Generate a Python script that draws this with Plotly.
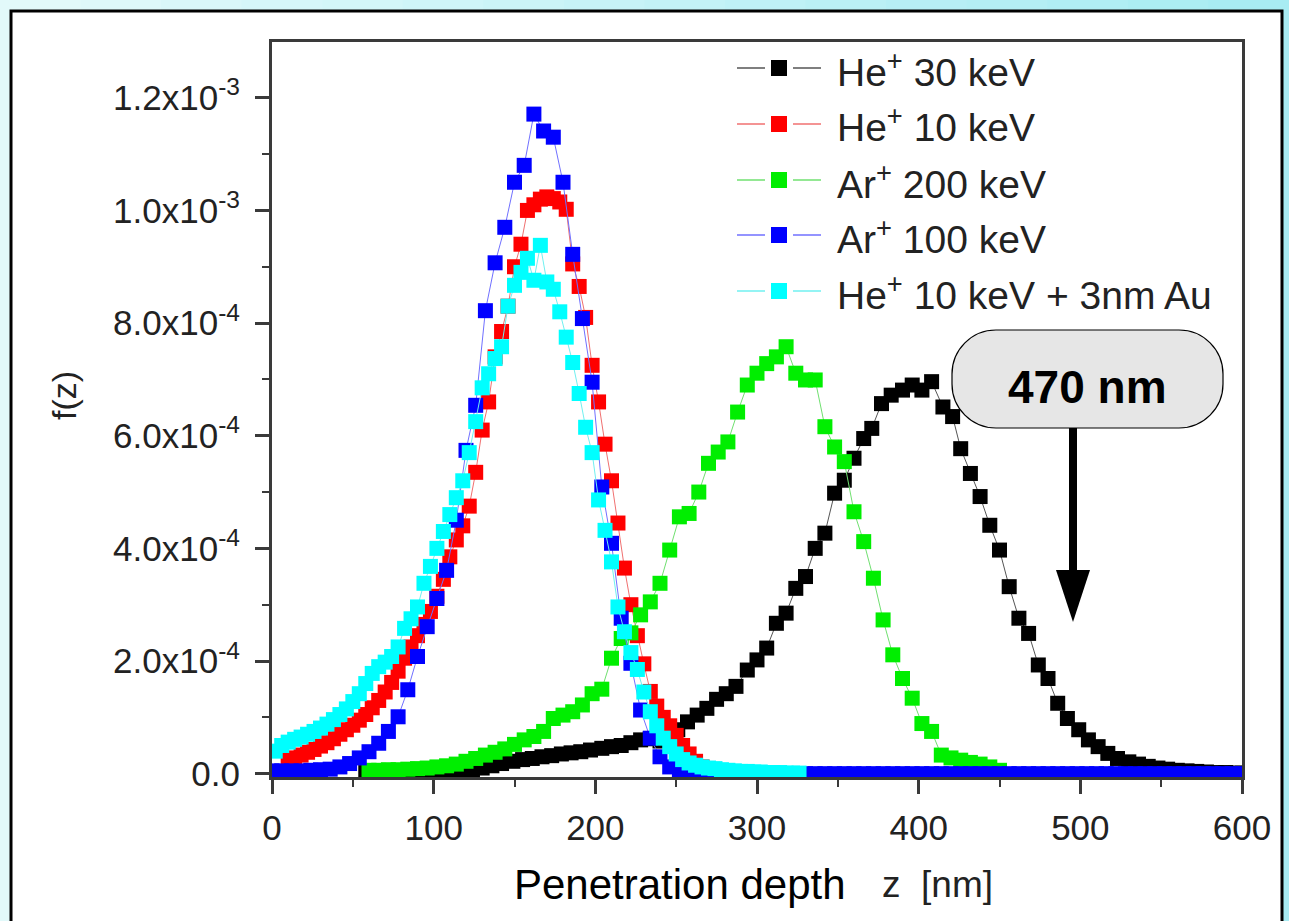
import plotly.graph_objects as go

# ---------------------------------------------------------------------------
# Depth profiles f(z) of implanted ions, values given in units of 1e-4
# ---------------------------------------------------------------------------
he30_z = [58, 64, 70, 76, 82, 88, 94, 100, 106, 112,
          118, 124, 130, 136, 142, 149, 155, 161, 167, 173,
          179, 185, 191, 197, 204, 210, 216, 222, 228, 234,
          240, 246, 251, 257, 263, 269, 275, 281, 287, 294,
          300, 306, 312, 318, 324, 330, 336, 342, 348, 354,
          360, 366, 371, 377, 383, 390, 396, 402, 408, 415,
          421, 426, 432, 438, 444, 450, 456, 462, 468, 474,
          480, 486, 492, 499, 505, 511, 517, 523, 530, 536,
          542, 548, 554, 560, 566, 572, 578, 584, 590, 596,
          600]
he30_f = [0.02, 0.02, 0.02, 0.03, 0.03, 0.03, 0.03, 0.04, 0.04, 0.05,
          0.05, 0.06, 0.10, 0.14, 0.18, 0.22, 0.25, 0.27, 0.30, 0.32,
          0.35, 0.37, 0.39, 0.42, 0.45, 0.48, 0.50, 0.55, 0.60, 0.62,
          0.58, 0.62, 0.78, 0.92, 1.04, 1.16, 1.32, 1.42, 1.55, 1.84,
          2.02, 2.23, 2.67, 2.85, 3.29, 3.50, 4.00, 4.27, 4.98, 5.21,
          5.60, 5.95, 6.13, 6.57, 6.72, 6.81, 6.90, 6.81, 6.96, 6.51,
          6.34, 5.77, 5.33, 4.92, 4.41, 3.97, 3.32, 2.76, 2.49, 1.93,
          1.69, 1.25, 0.98, 0.78, 0.60, 0.48, 0.36, 0.27, 0.21, 0.17,
          0.13, 0.10, 0.08, 0.06, 0.05, 0.04, 0.03, 0.02, 0.02, 0.01,
          0.01]

he10_z = [10, 14, 18, 22, 26, 30, 34, 38, 42, 46,
          50, 54, 58, 62, 66, 70, 74, 78, 82, 86,
          90, 94, 98, 102, 106, 110, 114, 118, 122, 126,
          130, 134, 138, 142, 146, 150, 154, 158, 162, 166,
          170, 174, 178, 182, 186, 190, 194, 198, 202, 206,
          210, 214, 218, 222, 226, 230, 234, 238, 242, 246,
          250, 254, 258, 262, 266, 270]
he10_f = [0.24, 0.28, 0.33, 0.38, 0.43, 0.49, 0.55, 0.62, 0.70, 0.78,
          0.86, 0.95, 1.05, 1.17, 1.30, 1.45, 1.62, 1.82, 2.05, 2.25,
          2.45, 2.65, 2.88, 3.15, 3.45, 3.85, 4.15, 4.40, 4.75, 5.35,
          6.10, 6.60, 7.40, 7.85, 8.30, 9.00, 9.40, 10.00, 10.10, 10.20,
          10.24, 10.21, 10.15, 10.02, 9.05, 8.65, 8.10, 7.25, 6.60, 5.85,
          5.20, 4.45, 3.65, 3.00, 2.45, 1.95, 1.46, 1.20, 1.00, 0.85,
          0.68, 0.50, 0.35, 0.22, 0.12, 0.06]

ar200_z = [60, 66, 72, 78, 84, 90, 96, 102, 108, 114,
           120, 126, 132, 138, 144, 150, 156, 162, 168, 174,
           180, 186, 192, 198, 204, 210, 216, 222, 228, 234,
           240, 246, 252, 258, 264, 270, 276, 282, 288, 294,
           300, 306, 312, 318, 324, 330, 336, 342, 348, 354,
           360, 366, 372, 378, 384, 390, 396, 402, 408, 414,
           420, 426, 432, 438, 444, 450]
ar200_f = [0.06, 0.06, 0.07, 0.07, 0.08, 0.09, 0.10, 0.12, 0.14, 0.17,
           0.22, 0.27, 0.33, 0.38, 0.44, 0.52, 0.60, 0.66, 0.75, 0.98,
           1.04, 1.10, 1.22, 1.42, 1.50, 2.05, 2.40, 2.50, 2.82, 3.05,
           3.38, 3.97, 4.56, 4.62, 5.00, 5.51, 5.71, 5.89, 6.42, 6.90,
           7.11, 7.28, 7.40, 7.58, 7.11, 6.99, 6.99, 6.16, 5.80, 5.54,
           4.65, 4.12, 3.47, 2.73, 2.11, 1.69, 1.34, 0.89, 0.75, 0.33,
           0.28, 0.24, 0.20, 0.17, 0.12, 0.06]

ar100_z = [0, 6, 12, 18, 24, 30, 36, 42, 48, 54,
           60, 66, 72, 78, 84, 90, 96, 102, 108, 114,
           120, 126, 132, 138, 144, 150, 156, 162, 168, 174,
           180, 186, 192, 198, 204, 210, 216, 222, 228, 234,
           240, 246, 252, 258, 264, 270, 276, 282, 288, 294,
           300, 306, 312, 318, 324, 330, 336, 342, 348, 354,
           360, 366, 372, 378, 384, 390, 396, 402, 408, 414,
           420, 426, 432, 438, 444, 450, 456, 462, 468, 474,
           480, 486, 492, 498, 504, 510, 516, 522, 528, 534,
           540, 546, 552, 558, 564, 570, 576, 582, 588, 594,
           600]
ar100_f = [0.05, 0.05, 0.05, 0.05, 0.06, 0.07, 0.08, 0.12, 0.18, 0.28,
           0.39, 0.54, 0.75, 1.01, 1.49, 2.08, 2.61, 3.11, 3.61, 4.50,
           5.74, 6.54, 8.22, 9.07, 9.70, 10.50, 10.80, 11.71, 11.41, 11.30,
           10.50, 9.22, 8.08, 6.95, 5.09, 4.09, 2.76, 1.96, 1.13, 0.63,
           0.30, 0.12, 0.03, 0.0, 0.0, 0.0, 0.0, 0.0, 0.0, 0.0,
           0.0, 0.0, 0.0, 0.0, 0.0, 0.0, 0.0, 0.0, 0.0, 0.0,
           0.0, 0.0, 0.0, 0.0, 0.0, 0.0, 0.0, 0.0, 0.0, 0.0,
           0.0, 0.0, 0.0, 0.0, 0.0, 0.0, 0.0, 0.0, 0.0, 0.0,
           0.0, 0.0, 0.0, 0.0, 0.0, 0.0, 0.0, 0.0, 0.0, 0.0,
           0.0, 0.0, 0.0, 0.0, 0.0, 0.0, 0.0, 0.0, 0.0, 0.0,
           0.0]

he10au_z = [2, 6, 10, 14, 18, 22, 26, 30, 34, 38,
            42, 46, 50, 54, 58, 62, 66, 70, 74, 78,
            82, 86, 90, 94, 98, 102, 106, 110, 114, 118,
            122, 126, 130, 134, 138, 142, 146, 150, 154, 158,
            162, 166, 170, 174, 178, 182, 186, 190, 194, 198,
            202, 206, 210, 214, 218, 222, 226, 230, 234, 238,
            242, 246, 250, 254, 258, 262, 266, 270, 274, 278,
            282, 286, 290, 294, 298, 302, 306, 310, 314, 318,
            322, 326]
he10au_f = [0.40, 0.50, 0.56, 0.61, 0.65, 0.70, 0.75, 0.81, 0.88, 0.96,
            1.05, 1.15, 1.28, 1.42, 1.60, 1.78, 1.90, 1.98, 2.08, 2.25,
            2.58, 2.75, 2.96, 3.38, 3.68, 4.00, 4.30, 4.60, 4.90, 5.20,
            5.70, 6.25, 6.85, 7.10, 7.37, 7.58, 8.30, 8.67, 8.90, 9.15,
            8.76, 9.38, 8.73, 8.60, 8.20, 7.75, 7.30, 6.75, 6.15, 5.70,
            4.86, 4.32, 3.76, 2.96, 2.52, 2.15, 1.85, 1.45, 1.10, 0.85,
            0.63, 0.48, 0.35, 0.25, 0.19, 0.15, 0.12, 0.10, 0.09, 0.07,
            0.06, 0.05, 0.04, 0.04, 0.03, 0.03, 0.02, 0.02, 0.02, 0.01,
            0.01, 0.01]

series_names = ["He<sup>+</sup> 30 keV", "He<sup>+</sup> 10 keV", "Ar<sup>+</sup> 200 keV",
                "Ar<sup>+</sup> 100 keV", "He<sup>+</sup> 10 keV + 3nm Au"]
marker_colors = ["#000000", "#ff0000", "#00ee00", "#0000ff", "#00ffff"]
line_colors = ["#555555", "#f07070", "#70e070", "#7070ff", "#70f0f0"]
series_z = [he30_z, he10_z, ar200_z, ar100_z, he10au_z]
series_f = [he30_f, he10_f, ar200_f, ar100_f, he10au_f]

y_tick_vals = [0.0, 2e-4, 4e-4, 6e-4, 8e-4, 1.0e-3, 1.2e-3]
y_tick_text = ["0.0", "2.0x10<sup>-4</sup>", "4.0x10<sup>-4</sup>", "6.0x10<sup>-4</sup>",
               "8.0x10<sup>-4</sup>", "1.0x10<sup>-3</sup>", "1.2x10<sup>-3</sup>"]
x_tick_vals = [0, 100, 200, 300, 400, 500, 600]

W, H = 1289, 921
L, R, T, B = 272, 1242, 42, 777   # plot area in pixels


def px(x):
    return (x - L) / (R - L)


def py(y):
    return (B - y) / (B - T)


FONT = "Liberation Sans, Arial, sans-serif"

fig = go.Figure()
for name, z, f, mc, lc in zip(series_names, series_z, series_f, marker_colors, line_colors):
    fig.add_trace(go.Scatter(
        x=z, y=[v * 1e-4 for v in f], mode="lines+markers", name=name,
        line=dict(color=lc, width=1),
        marker=dict(symbol="square", size=15, color=mc, line=dict(width=0)),
        showlegend=False, hoverinfo="skip"))

shapes = []
# outer cyan backdrop as a horizontal gradient
n_strips = 16
c0 = (226, 249, 250)
c1 = (168, 236, 243)
for i in range(n_strips):
    t = i / (n_strips - 1)
    col = tuple(round(c0[k] + (c1[k] - c0[k]) * t) for k in range(3))
    x0 = W * i / n_strips
    x1 = W * (i + 1) / n_strips + 1
    shapes.append(dict(type="rect", xref="paper", yref="paper", layer="below",
                       x0=px(x0), x1=px(x1), y0=py(H + 5), y1=py(-5),
                       fillcolor="rgb(%d,%d,%d)" % col, line=dict(width=0)))
# white panel with black frame
shapes.append(dict(type="rect", xref="paper", yref="paper", layer="below",
                   x0=px(11), x1=px(1282), y0=py(935), y1=py(11),
                   fillcolor="white", line=dict(color="black", width=3)))

# legend glyphs
legend_y = [68, 124, 180, 235, 291]
for yy, mc, lc in zip(legend_y, marker_colors, line_colors):
    for xa, xb in [(737, 765), (793, 821)]:
        shapes.append(dict(type="line", xref="paper", yref="paper", layer="above",
                           x0=px(xa), x1=px(xb), y0=py(yy), y1=py(yy),
                           line=dict(color=lc, width=1.5)))
    shapes.append(dict(type="rect", xref="paper", yref="paper", layer="above",
                       x0=px(771), x1=px(787), y0=py(yy + 8), y1=py(yy - 8),
                       fillcolor=mc, line=dict(width=0)))

# rounded label box
bl, br, bt, bb, rr = 952, 1223, 330, 428, 44
k = 0.5523 * rr


def P(x, y):
    return "%.5f,%.5f" % (px(x), py(y))


path = ("M " + P(bl + rr, bt) + " L " + P(br - rr, bt) +
        " C " + P(br - rr + k, bt) + " " + P(br, bt + rr - k) + " " + P(br, bt + rr) +
        " L " + P(br, bb - rr) +
        " C " + P(br, bb - rr + k) + " " + P(br - rr + k, bb) + " " + P(br - rr, bb) +
        " L " + P(bl + rr, bb) +
        " C " + P(bl + rr - k, bb) + " " + P(bl, bb - rr + k) + " " + P(bl, bb - rr) +
        " L " + P(bl, bt + rr) +
        " C " + P(bl, bt + rr - k) + " " + P(bl + rr - k, bt) + " " + P(bl + rr, bt) + " Z")
shapes.append(dict(type="path", xref="paper", yref="paper", layer="above", path=path,
                   fillcolor="#e6e6e6", line=dict(color="black", width=1.2)))

# arrow pointing down
ax = 1073
shapes.append(dict(type="rect", xref="paper", yref="paper", layer="above",
                   x0=px(ax - 4), x1=px(ax + 4), y0=py(575), y1=py(428),
                   fillcolor="black", line=dict(width=0)))
shapes.append(dict(type="path", xref="paper", yref="paper", layer="above",
                   path="M " + P(ax - 17, 570) + " L " + P(ax + 17, 570) + " L " + P(ax, 622) + " Z",
                   fillcolor="black", line=dict(width=0)))

annotations = []
for yy, name in zip(legend_y, series_names):
    annotations.append(dict(xref="paper", yref="paper", x=px(835), y=py(yy + 1),
                            xanchor="left", yanchor="middle", text=name, showarrow=False,
                            font=dict(family=FONT, size=39, color="#222222")))
annotations.append(dict(xref="paper", yref="paper", x=px(1087), y=py(387),
                        xanchor="center", yanchor="middle", text="<b>470 nm</b>",
                        showarrow=False, font=dict(family=FONT, size=46, color="black")))
annotations.append(dict(xref="paper", yref="paper", x=px(64), y=py(396),
                        xanchor="center", yanchor="middle", text="f(z)", textangle=-90,
                        showarrow=False, font=dict(family=FONT, size=34, color="#222222")))
annotations.append(dict(xref="paper", yref="paper", x=px(848), y=py(884),
                        xanchor="right", yanchor="middle", text="Penetration depth",
                        showarrow=False, font=dict(family=FONT, size=42, color="black")))
annotations.append(dict(xref="paper", yref="paper", x=px(880), y=py(884),
                        xanchor="left", yanchor="middle", text="z  [nm]",
                        showarrow=False,
                        font=dict(family="Liberation Sans Narrow, " + FONT, size=37, color="#222222")))

axis_common = dict(showline=True, linecolor="#3a3a3a", linewidth=3, mirror=True,
                   ticks="outside", ticklen=14, tickwidth=2.5, tickcolor="#3a3a3a",
                   showgrid=False, zeroline=False,
                   tickfont=dict(family=FONT, size=35, color="#222222"))

fig.update_layout(
    width=W, height=H, autosize=False,
    margin=dict(l=L, r=W - R, t=T, b=H - B, pad=0),
    paper_bgcolor="white", plot_bgcolor="rgba(0,0,0,0)",
    xaxis=dict(range=[0, 600], tickvals=x_tick_vals,
               minor=dict(dtick=50, tick0=0, ticks="outside", ticklen=7,
                          tickwidth=2, tickcolor="#3a3a3a"),
               ticklabelstandoff=4, **axis_common),
    yaxis=dict(range=[-5.9e-6, 1.299e-3], tickvals=y_tick_vals, ticktext=y_tick_text,
               minor=dict(dtick=1e-4, tick0=0, ticks="outside", ticklen=7,
                          tickwidth=2, tickcolor="#3a3a3a"),
               ticklabelstandoff=8, **axis_common),
    shapes=shapes, annotations=annotations, showlegend=False,
)

fig.write_html("out.html")
